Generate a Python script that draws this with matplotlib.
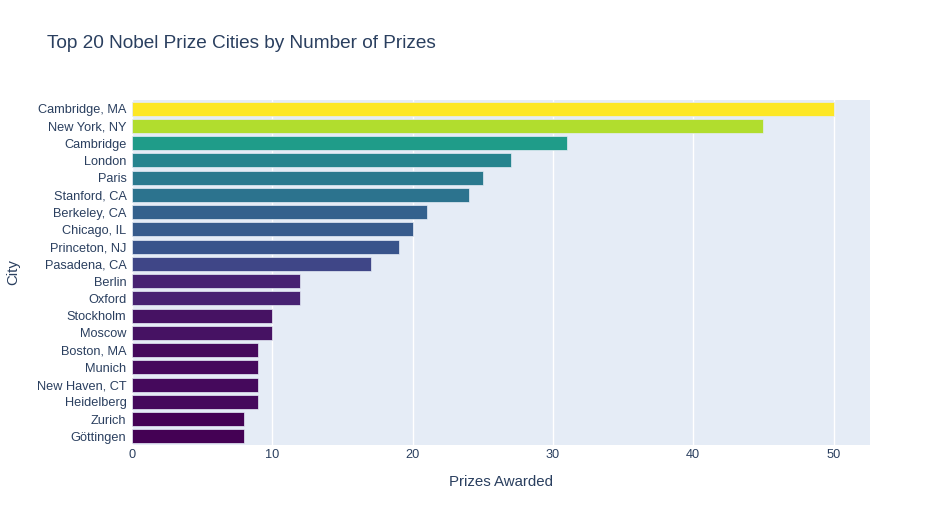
import numpy as np
import matplotlib.pyplot as plt
from matplotlib.colors import LinearSegmentedColormap, Normalize

cities = ["Cambridge, MA", "New York, NY", "Cambridge", "London", "Paris",
          "Stanford, CA", "Berkeley, CA", "Chicago, IL", "Princeton, NJ", "Pasadena, CA",
          "Berlin", "Oxford", "Stockholm", "Moscow", "Boston, MA",
          "Munich", "New Haven, CT", "Heidelberg", "Zurich", "Göttingen"]
prizes = [50, 45, 31, 27, 25, 24, 21, 20, 19, 17, 12, 12, 10, 10, 9, 9, 9, 9, 8, 8]
xticks = [0, 10, 20, 30, 40, 50]

# plotly's Viridis scale
viridis_stops = ['#440154', '#482878', '#3e4989', '#31688e', '#26828e',
                 '#1f9e89', '#35b779', '#6ece58', '#b5de2b', '#fde725']
cmap = LinearSegmentedColormap.from_list("pviridis", viridis_stops)
norm = Normalize(min(prizes), max(prizes))

txt = '#2a3f5f'
plt.rcParams['font.family'] = ['Liberation Sans', 'DejaVu Sans']

fig = plt.figure(figsize=(9.51, 5.25), dpi=100)
ax = fig.add_axes([132/951, 1-445/525, (870-132)/951, (445-100)/525])
ax.set_facecolor('#E5ECF6')

y = np.arange(len(cities))
ax.barh(y, prizes, height=0.8, color=cmap(norm(np.array(prizes))),
        edgecolor='#E5ECF6', linewidth=0.5, zorder=3)
ax.set_ylim(len(cities)-0.5, -0.5)
ax.set_xlim(0, 52.6)
ax.set_yticks(y)
ax.set_yticklabels(cities)
ax.set_xticks(xticks)
ax.xaxis.grid(True, color='white', linewidth=1, zorder=0)
ax.tick_params(length=0, labelsize=9.2, colors=txt, pad=4)
ax.tick_params(axis='x', pad=3)
for s in ax.spines.values():
    s.set_visible(False)

ax.set_xlabel("Prizes Awarded", fontsize=10.8, color=txt, labelpad=10)
ax.set_ylabel("City", fontsize=10.8, color=txt, labelpad=12)
fig.text(47/951, 1-44/525, "Top 20 Nobel Prize Cities by Number of Prizes",
         fontsize=13.7, color=txt, va='center', ha='left')

fig.savefig("out.png", dpi=100)
